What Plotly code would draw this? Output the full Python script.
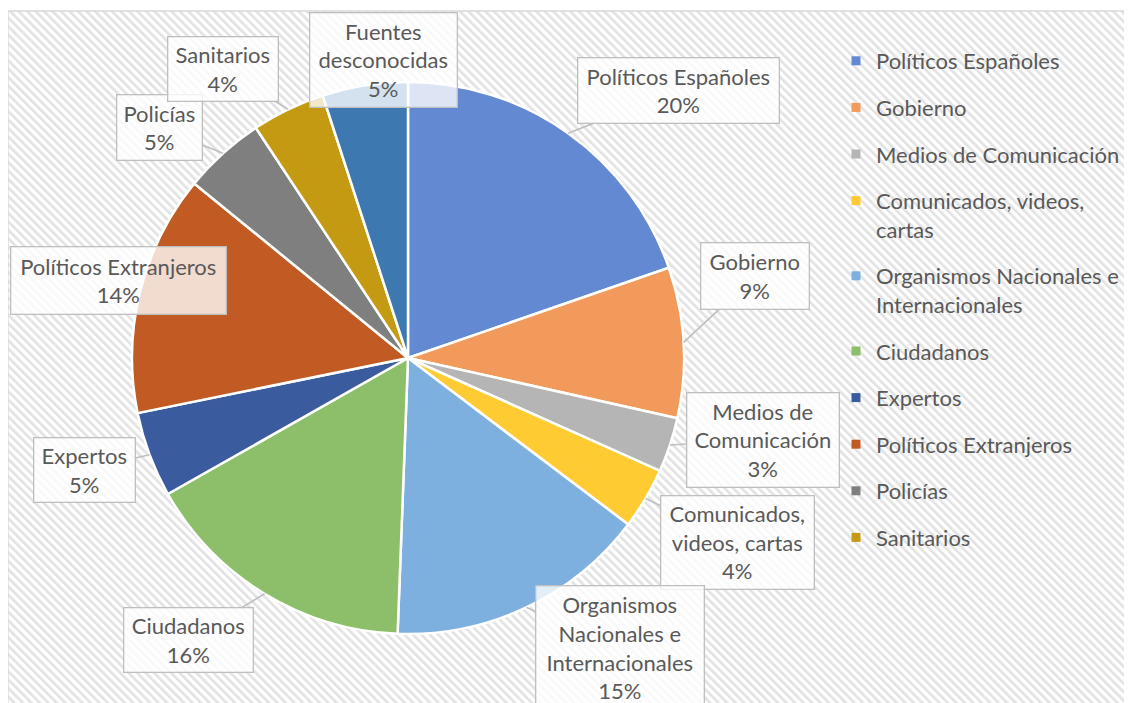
import math
import base64
import plotly.graph_objects as go

# ---------------- data ----------------
categories = [
    "Políticos Españoles", "Gobierno", "Medios de Comunicación",
    "Comunicados, videos, cartas", "Organismos Nacionales e Internacionales",
    "Ciudadanos", "Expertos", "Políticos Extranjeros", "Policías",
    "Sanitarios", "Fuentes desconocidas",
]
values = [19.7, 8.8, 3.2, 3.6, 15.3, 16.2, 5.0, 14.1, 4.8, 4.3, 5.0]

callout_text = [
    "Políticos Españoles", "Gobierno", "Medios de<br>Comunicación",
    "Comunicados,<br>videos, cartas", "Organismos<br>Nacionales e<br>Internacionales",
    "Ciudadanos", "Expertos", "Políticos Extranjeros", "Policías",
    "Sanitarios", "Fuentes<br>desconocidas",
]
legend_text = [
    "Políticos Españoles", "Gobierno", "Medios de Comunicación",
    "Comunicados, videos,<br>cartas", "Organismos Nacionales e<br>Internacionales",
    "Ciudadanos", "Expertos", "Políticos Extranjeros", "Policías", "Sanitarios",
]

# ---------------- style / layout ----------------
colors = [
    "#6389D2", "#F19A5C", "#B5B5B5", "#FFCB33", "#7DB0DE", "#8DBF6A",
    "#3A5C9E", "#C25A24", "#7F7F7F", "#C49A12", "#3D79B0",
]
OFF = 8                      # page body margin in the browser
W, H = 1132 - OFF, 703 - OFF
CX, CY, R = 408, 358, 276    # pie centre / radius in screen pixels
# callout boxes: centre x, centre y, width, height (screen pixels)
boxes = [
    (678.5, 90.5, 203, 67), (755, 276, 110, 68), (763, 440, 154, 96),
    (737.5, 542.5, 155, 95), (620, 648, 170, 126), (188.5, 640, 131, 66),
    (84.5, 470, 103, 66), (118.5, 280.5, 217, 69), (159.5, 127.5, 87, 67),
    (223, 69, 112, 66), (383.5, 60, 149, 96),
]
TXT = "#595959"
FONT = "Lato"
FS = 22


def px(x):
    return (x - OFF) / W


def py(y):
    return 1 - (y - OFF) / H


fig = go.Figure()

fig.add_trace(go.Pie(
    labels=categories, values=values, sort=False, direction="clockwise",
    rotation=0, textinfo="none", showlegend=False,
    marker=dict(colors=colors, line=dict(color="white", width=2.5)),
    domain=dict(x=[px(CX - R), px(CX + R)], y=[py(CY + R), py(CY - R)]),
    hovertemplate="%{label}: %{percent}<extra></extra>",
))

# legend entries (legend in the reference lists the first ten categories)
for i, name in enumerate(legend_text):
    fig.add_trace(go.Scatter(
        x=[None], y=[None], mode="markers", name=name, legendgroup=str(i),
        marker=dict(symbol="square", size=9, color=colors[i]),
        hoverinfo="skip",
    ))

# callouts
total = sum(values)
cum = 0.0
annotations = []
for i, v in enumerate(values):
    mid = (cum + v / 2) / total
    cum += v
    th = 2 * math.pi * mid
    tx, ty = CX + R * math.sin(th), CY - R * math.cos(th)
    bx, by, bw, bh = boxes[i]
    text = f"{callout_text[i]}<br>{round(v / total * 100)}%"
    inside = (bx - bw / 2 <= tx <= bx + bw / 2) and (by - bh / 2 <= ty <= by + bh / 2)
    common = dict(
        text=text, xref="paper", yref="paper",
        font=dict(family=FONT, size=FS, color=TXT),
        bgcolor="rgba(255,255,255,0.78)", bordercolor="#BFBFBF",
        borderwidth=1.3, borderpad=2, width=bw - 7, height=bh - 7,
        align="center", valign="middle",
    )
    if inside:
        annotations.append(dict(x=px(bx), y=py(by), showarrow=False,
                                xanchor="center", yanchor="middle", **common))
    else:
        annotations.append(dict(
            x=px(tx), y=py(ty), showarrow=True, arrowhead=0,
            arrowwidth=1.6, arrowcolor="#BFBFBF",
            ax=bx - tx, ay=by - ty, axref="pixel", ayref="pixel",
            standoff=0, **common))

# hatched chart-area background
svg = (
    f"<svg xmlns='http://www.w3.org/2000/svg' width='{1132 - 8}' height='{703 - 11}'>"
    "<defs><pattern id='p' width='6' height='6' patternUnits='userSpaceOnUse' "
    "patternTransform='rotate(-45)'><rect width='6' height='6' fill='white'/>"
    "<rect width='2.6' height='6' fill='#E2E2E2'/></pattern></defs>"
    "<rect width='100%' height='100%' fill='url(#p)'/></svg>"
)
src = "data:image/svg+xml;base64," + base64.b64encode(svg.encode()).decode()

fig.update_layout(
    width=W, height=H, margin=dict(l=0, r=0, t=0, b=0),
    paper_bgcolor="white", plot_bgcolor="rgba(0,0,0,0)",
    font=dict(family=FONT, color=TXT),
    xaxis=dict(visible=False, range=[0, 1]),
    yaxis=dict(visible=False, range=[0, 1]),
    images=[dict(source=src, xref="paper", yref="paper", x=px(8), y=py(11),
                 sizex=(1132 - 8) / W, sizey=(703 - 11) / H, xanchor="left",
                 yanchor="top", sizing="stretch", layer="below")],
    shapes=[dict(type="rect", xref="paper", yref="paper", x0=px(8), y0=-0.02,
                 x1=1.02, y1=py(11), line=dict(color="#D9D9D9", width=1.3),
                 layer="below")],
    annotations=annotations,
    legend=dict(x=px(836), y=py(40), xanchor="left", yanchor="top",
                font=dict(family=FONT, size=FS, color=TXT),
                bgcolor="rgba(0,0,0,0)", tracegroupgap=15, valign="top",
                itemwidth=30),
    showlegend=True,
)

fig.write_html("out.html")
